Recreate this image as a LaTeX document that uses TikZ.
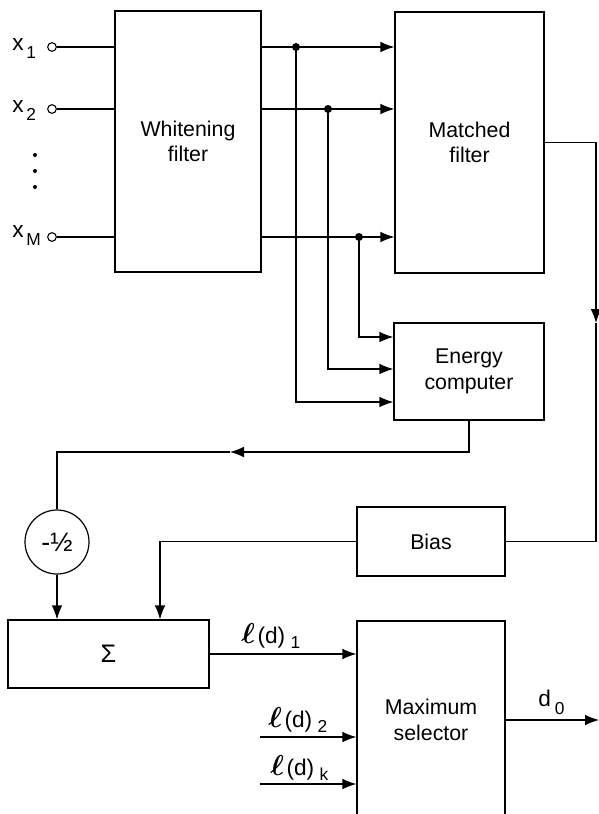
\documentclass[tikz,border=0pt]{standalone}
\usepackage{amsmath}
\usepackage{bm}
\usepackage{fontspec}
\setmainfont{Liberation Sans}
\usetikzlibrary{arrows.meta, calc}

\newcommand{\xin}[1]{x\kern2pt\raisebox{-6pt}{\fontsize{13}{15}\selectfont #1}}
\newcommand{\lds}[1]{\raisebox{-0.5pt}{\scalebox{1.25}{$\bm{\ell}$}}\kern2pt(d)\kern4pt\raisebox{-4pt}{\fontsize{13}{15}\selectfont #1}}

\begin{document}
\begin{tikzpicture}[
  x=0.75pt, y=-0.75pt,
  >={Latex[length=10.5pt, width=8pt]},
  every node/.style={text=black, font=\fontsize{16}{19}\selectfont},
  wire/.style={line width=0.9pt},
  box/.style={draw, line width=0.9pt, inner sep=0pt, align=center},
  term/.style={draw, circle, line width=0.8pt, fill=white, minimum size=6.5pt, inner sep=0pt},
  lbl/.style={anchor=base west, inner sep=0pt, font=\fontsize{17}{20}\selectfont},
]

% Background
\fill[white] (0,0) rectangle (599,814);
\useasboundingbox (0,0) rectangle (599,814);

% Blocks
\node[box, minimum width=109.5pt, minimum height=195.75pt] (wf) at (188,141.5) {Whitening\\filter};
\node[box, minimum width=111.75pt, minimum height=195.75pt] (mf) at (469.5,142.5) {Matched\\filter};
\node[box, minimum width=112.5pt, minimum height=72.75pt] (ec) at (469,371.5) {Energy\\computer};
\node[box, minimum width=111pt, minimum height=51.75pt] (bias) at (431,541.5) {Bias};
\node[box, minimum width=150.75pt, minimum height=51pt, font=\fontsize{19}{21}\selectfont] (sum) at (108.5,654) {Σ};
\node[box, circle, minimum size=48pt, font=\fontsize{20}{22}\selectfont] (half) at (57,542) {-½};
\node[box, minimum width=111pt, minimum height=148.5pt] (ms) at (431,720) {Maximum\\selector};

% Inputs
\node[term] (x1) at (52,47) {};
\node[term] (x2) at (52,109) {};
\node[term] (xM) at (52,237) {};
\node[lbl] (lx1) at (12,50) {\xin{1}};
\node[lbl] (lx2) at (12,112) {\xin{2}};
\node[lbl] (lxM) at (12,237) {\xin{M}};
\fill (35,155) circle (1.5pt);
\fill (35,171) circle (1.5pt);
\fill (35,187) circle (1.5pt);
\draw[wire] (x1) -- (x1 -| wf.west);
\draw[wire] (x2) -- (x2 -| wf.west);
\draw[wire] (xM) -- (xM -| wf.west);

% Whitened outputs to the matched filter
\coordinate (j1) at (296,47);
\coordinate (j2) at (328,109);
\coordinate (j3) at (359,237);
\draw[wire,->] (wf.east |- j1) -- (mf.west |- j1);
\draw[wire,->] (wf.east |- j2) -- (mf.west |- j2);
\draw[wire,->] (wf.east |- j3) -- (mf.west |- j3);
\fill (j1) circle (3pt);
\fill (j2) circle (3pt);
\fill (j3) circle (3pt);

% Taps to the energy computer
\draw[wire,->] (j3) |- ($(ec.west)+(0,-34.5)$);
\draw[wire,->] (j2) |- ($(ec.west)+(0,-2.5)$);
\draw[wire,->] (j1) |- ($(ec.west)+(0,30.5)$);

% Matched filter to bias
\coordinate (ma) at (596,323);
\draw[wire,->] (mf.east) -| (ma);
\draw[wire] (ma) |- (bias.east);

% Energy to the -1/2 gain
\coordinate (ea) at (230,452);
\draw[wire,->] (ec.south) |- (ea);
\draw[wire] (ea) -| (half.north);

% Into the summer
\draw[wire,->] (half.south) -- (half.south |- sum.north);
\draw[wire,->] (bias.west) -| ($(sum.north)+(51.5,0)$);

% Maximum selector inputs and output
\draw[wire,->] (sum.east) -- (sum.east -| ms.west);
\node[lbl] (l1) at (241,643) {\lds{1}};
\coordinate (i2) at (260,737);
\coordinate (ik) at (260,784);
\draw[wire,->] (i2) -- (i2 -| ms.west);
\draw[wire,->] (ik) -- (ik -| ms.west);
\node[lbl] (l2) at (268,727) {\lds{2}};
\node[lbl] (lk) at (270,775) {\lds{k}};
\coordinate (dout) at (599,720);
\draw[wire,->] (ms.east) -- (dout);
\node[lbl] (d0) at (538,706) {d\kern3pt\raisebox{-6pt}{\fontsize{13}{15}\selectfont 0}};

\end{tikzpicture}
\end{document}
